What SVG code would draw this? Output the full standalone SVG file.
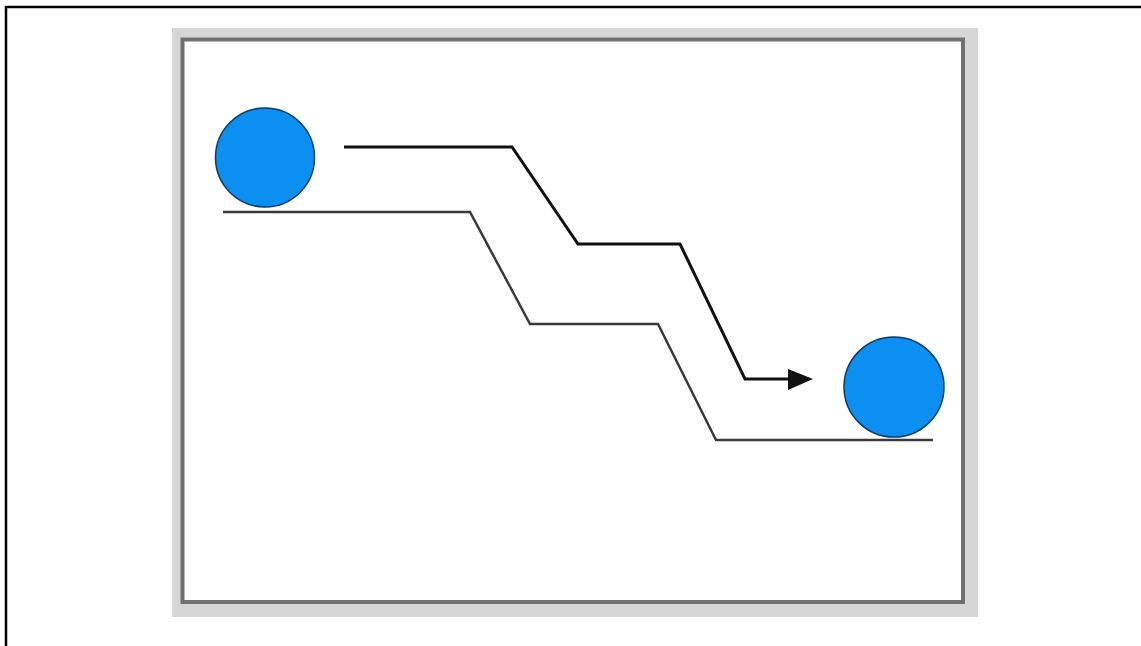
<svg xmlns="http://www.w3.org/2000/svg" width="1141" height="646" viewBox="0 0 1141 646">
<style>
.ball{fill:#0b8ff0;stroke:#0a3d6b;stroke-width:1.5}
.track{fill:none;stroke:#3a3a3a;stroke-width:2.5;stroke-linejoin:miter}
.path{fill:none;stroke:#111;stroke-width:3}
</style>
<defs>
<marker id="ah" markerWidth="10" markerHeight="8" refX="9" refY="4" orient="auto" markerUnits="userSpaceOnUse" viewBox="0 0 10 8">
<path d="M0,0 L10,4 L0,8 Z" fill="#111"/>
</marker>
</defs>
<rect width="1141" height="646" fill="#fff"/>
<path d="M6,646 V7 H1141" fill="none" stroke="#000" stroke-width="2.5"/>
<g id="frame">
<rect x="172" y="28" width="806" height="589" fill="#d6d6d6"/>
<rect x="182.5" y="39.5" width="780.5" height="562.5" fill="#fff" stroke="#707070" stroke-width="4"/>
</g>
<g id="tracks">
<polyline class="track" points="223,212 470,212 530,324 658,324 716,440 933,440"/>
</g>
<g id="connectors">
<polyline class="path" points="344,147 512,147 578,244 680,244 745,379 794,379"/>
<path d="M788,369 L813,379 L788,390 Z" fill="#111"/>
</g>
<g id="ball-start">
<circle class="ball" cx="265" cy="157.5" r="49.5"/>
</g>
<g id="ball-end">
<circle class="ball" cx="894" cy="387" r="50"/>
</g>
</svg>
